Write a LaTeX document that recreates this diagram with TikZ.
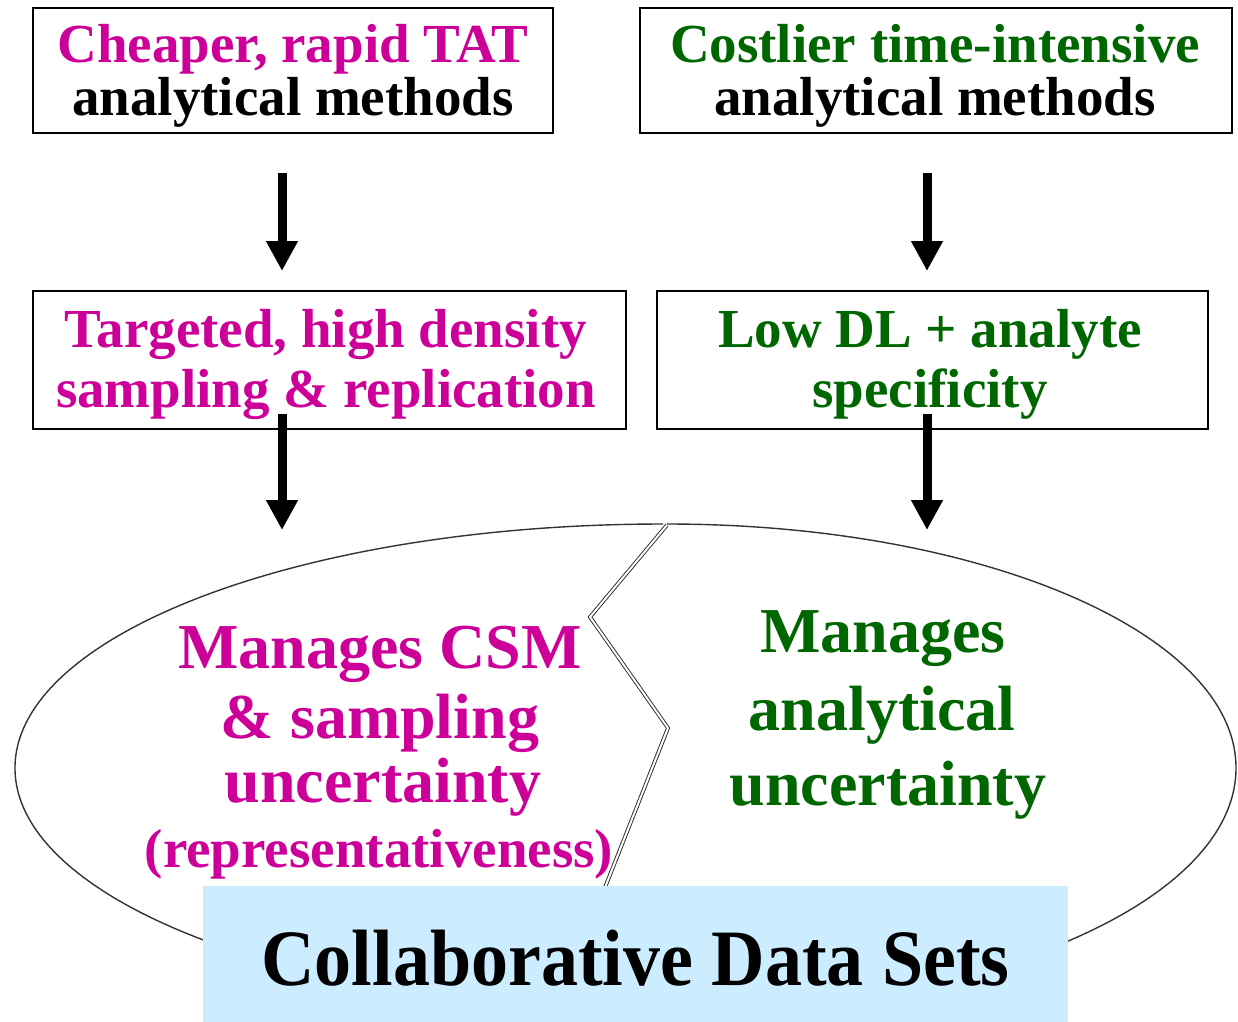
\documentclass[tikz,border=0pt]{standalone}
\usepackage{fontspec}
\setmainfont{Liberation Serif}
\usetikzlibrary{arrows.meta}
\definecolor{mag}{HTML}{CC0099}
\definecolor{grn}{HTML}{006600}
\definecolor{skyfill}{HTML}{CCECFF}
\tikzset{
  box/.style={draw=black, line width=1.3pt, inner sep=0pt},
  txt/.style={inner sep=0pt, anchor=base, font=\bfseries\fontsize{55}{55}\selectfont},
  bigtxt/.style={inner sep=0pt, anchor=base, font=\bfseries\fontsize{64}{64}\selectfont},
  flow/.style={line width=9pt, -{Triangle[width=30pt,length=30pt]}},
  shell/.style={draw=black!80, line width=1.4pt},
  crack/.style={draw=black!85, line width=0.9pt, double=white, double distance=2pt}
}
\begin{document}
\begin{tikzpicture}[x=1pt,y=-1pt]
\useasboundingbox (0,0) rectangle (1238,1021);

% the two halves of the egg-shaped outline
\draw[shell] (663,524) arc[start angle=-90, end angle=-270, x radius=648, y radius=244];
\draw[shell] (667,524) arc[start angle=-90, end angle=90, x radius=569, y radius=244];

% zig-zag crack between the halves
\draw[crack] (667,525) -- (590,617) -- (668,728) -- (604,890);

% banner at the bottom
\node[fill=skyfill, inner sep=0pt, minimum width=865pt, minimum height=140pt] (cds) at (635.5,956) {};
\node[inner sep=0pt, anchor=base, font=\bfseries\fontsize{74}{74}\selectfont] (cdstxt) at (635.5,985)
  {\scalebox{1}[1.08]{Collaborative Data Sets}};

% top and middle boxes
\node[box, minimum width=520pt, minimum height=125pt] (b1) at (293,70.5) {};
\node[box, minimum width=592pt, minimum height=125pt] (b2) at (936,70.5) {};
\node[box, minimum width=593pt, minimum height=138pt] (b3) at (329.5,360) {};
\node[box, minimum width=551pt, minimum height=138pt] (b4) at (932.5,360) {};

\node[txt, text=mag] (t1a) at (293,62) {Cheaper, rapid TAT};
\node[txt, text=black] (t1b) at (293,115) {analytical methods};
\node[txt, text=grn] (t2a) at (935,62) {Costlier time-intensive};
\node[txt, text=black] (t2b) at (935,115) {analytical methods};
\node[txt, text=mag] (t3a) at (326,347) {Targeted, high density};
\node[txt, text=mag] (t3b) at (326,407) {sampling \& replication};
\node[txt, text=grn] (t4a) at (930,347) {Low DL + analyte};
\node[txt, text=grn] (t4b) at (930,407) {specificity};

% arrows
\coordinate (a1s) at (282,173);
\coordinate (a1e) at (282,271);
\coordinate (a2s) at (927,173);
\coordinate (a2e) at (927,271);
\coordinate (a3s) at (282,414);
\coordinate (a3e) at (282,530);
\coordinate (a4s) at (927,414);
\coordinate (a4e) at (927,530);
\draw[flow] (a1s) -- (a1e);
\draw[flow] (a2s) -- (a2e);
\draw[flow] (a3s) -- (a3e);
\draw[flow] (a4s) -- (a4e);

% texts inside the outline
\node[bigtxt, text=mag] (l1) at (380,668) {Manages CSM};
\node[bigtxt, text=mag] (l2) at (380,738) {\& sampling};
\node[bigtxt, text=mag] (l3) at (383,802) {uncertainty};
\node[txt, text=mag] (l4) at (379,867) {(representativeness)};
\node[bigtxt, text=grn] (r1) at (883,652) {Manages};
\node[bigtxt, text=grn] (r2) at (882,730) {analytical};
\node[bigtxt, text=grn] (r3) at (888,805) {uncertainty};
\end{tikzpicture}
\end{document}
